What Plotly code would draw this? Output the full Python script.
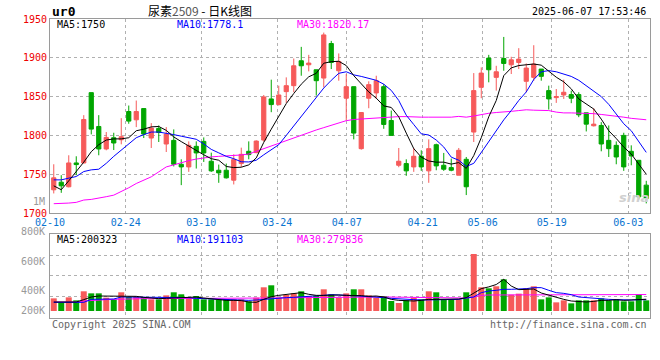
import plotly.graph_objects as go

W, H = 660, 360

# ---------------- data ----------------
open_ = [1729.9, 1739.7, 1733.8, 1764.5, 1764.5, 1855.1, 1811.5, 1782.5, 1797.0, 1794.4,
         1830.8, 1820.1, 1834.6, 1796.6, 1809.0, 1788.9, 1793.6, 1762.8, 1759.4, 1785.9,
         1792.3, 1766.7, 1755.1, 1755.1, 1742.3, 1763.7, 1779.5, 1777.8, 1794.0, 1847.0,
         1839.7, 1856.4, 1864.1, 1896.2, 1891.0, 1884.6, 1873.9, 1918.4, 1883.3, 1847.9,
         1862.8, 1782.9, 1847.9, 1854.7, 1862.8, 1819.2, 1761.5, 1763.7, 1759.4, 1773.1,
         1754.3, 1788.0, 1761.5, 1758.5, 1748.7, 1769.2, 1804.3, 1862.0, 1899.6, 1874.8,
         1899.1, 1891.0, 1894.0, 1869.7, 1874.8, 1885.5, 1857.7, 1848.7, 1852.1, 1852.6,
         1852.6, 1829.1, 1812.4, 1812.8, 1793.6, 1787.2, 1800.0, 1779.5, 1767.9, 1735.9]
high = [1762.8, 1748.7, 1774.4, 1773.1, 1826.1, 1855.1, 1826.1, 1804.3, 1803.4, 1822.2,
        1838.5, 1844.9, 1834.6, 1815.8, 1812.8, 1810.7, 1807.7, 1769.2, 1792.3, 1792.3,
        1797.4, 1777.8, 1762.4, 1763.7, 1775.6, 1784.2, 1792.3, 1793.6, 1852.1, 1871.8,
        1864.1, 1874.8, 1899.1, 1914.1, 1903.8, 1884.6, 1932.5, 1921.8, 1905.6, 1879.0,
        1862.8, 1829.5, 1869.7, 1876.9, 1866.2, 1832.0, 1783.8, 1769.2, 1783.8, 1780.8,
        1794.9, 1789.3, 1777.4, 1770.1, 1783.8, 1772.2, 1880.3, 1887.6, 1903.8, 1889.7,
        1926.9, 1901.3, 1912.4, 1892.7, 1916.2, 1885.5, 1864.1, 1859.8, 1871.8, 1857.7,
        1855.6, 1829.1, 1835.0, 1817.1, 1812.8, 1792.3, 1803.4, 1787.2, 1767.9, 1741.5]
low = [1725.2, 1726.0, 1733.0, 1748.7, 1764.0, 1801.3, 1774.4, 1780.8, 1781.2, 1788.5,
       1815.0, 1810.7, 1796.6, 1783.8, 1791.5, 1778.6, 1760.0, 1735.9, 1753.0, 1757.3,
       1765.8, 1753.0, 1738.9, 1744.4, 1736.8, 1759.4, 1769.2, 1777.0, 1792.0, 1829.9,
       1838.5, 1841.9, 1855.6, 1876.9, 1882.5, 1851.3, 1862.0, 1885.5, 1870.5, 1819.2,
       1794.9, 1781.6, 1835.0, 1847.0, 1808.5, 1800.0, 1759.0, 1747.9, 1753.0, 1754.3,
       1738.9, 1755.1, 1754.3, 1753.8, 1748.7, 1723.1, 1791.5, 1847.9, 1868.4, 1857.7,
       1883.3, 1879.1, 1885.5, 1855.6, 1870.5, 1870.5, 1833.3, 1841.9, 1847.0, 1841.5,
       1823.5, 1805.1, 1811.5, 1779.5, 1772.2, 1762.8, 1754.3, 1761.5, 1717.5, 1712.4]
close = [1745.3, 1735.0, 1764.5, 1762.4, 1820.5, 1808.1, 1782.5, 1797.4, 1790.2, 1798.3,
         1818.4, 1830.8, 1801.7, 1809.4, 1803.8, 1801.7, 1762.8, 1759.4, 1787.2, 1777.4,
         1777.4, 1754.3, 1751.7, 1745.3, 1768.8, 1775.6, 1775.2, 1792.7, 1849.6, 1839.7,
         1852.1, 1864.1, 1889.7, 1889.7, 1893.2, 1870.5, 1929.5, 1894.0, 1895.3, 1862.8,
         1803.0, 1829.5, 1865.4, 1870.5, 1814.1, 1800.0, 1766.7, 1754.3, 1773.1, 1759.4,
         1782.9, 1760.7, 1756.4, 1755.1, 1780.8, 1733.8, 1857.7, 1880.3, 1884.6, 1882.0,
         1892.7, 1897.4, 1898.3, 1886.8, 1891.9, 1876.1, 1847.0, 1850.0, 1855.6, 1847.9,
         1826.5, 1814.5, 1814.5, 1788.9, 1782.9, 1772.2, 1759.4, 1773.5, 1720.9, 1718.8]

ma5 = [1735, 1730, 1741.5, 1753, 1765.5, 1779, 1788, 1794, 1795.5, 1795.5,
       1797, 1806, 1808, 1811, 1811.5, 1806.5, 1798, 1792, 1786, 1781,
       1775, 1770, 1768, 1760, 1758.5, 1759, 1762, 1771, 1791, 1808,
       1824, 1841, 1854, 1866, 1875.5, 1880, 1893, 1895, 1895.5, 1890,
       1877, 1867, 1856, 1848, 1838, 1836, 1824, 1803, 1783, 1772,
       1767, 1765.5, 1765.5, 1763, 1765, 1757.5, 1774, 1797, 1824, 1845,
       1877, 1887, 1890, 1891, 1892, 1890.5, 1883, 1875, 1869, 1860,
       1847, 1841, 1834, 1821, 1806, 1796, 1785, 1776, 1763, 1750]
ma10 = [1742.7, 1742.7, 1744.9, 1747, 1753.4, 1755.6, 1756.4, 1764, 1773, 1781,
        1788, 1797, 1801, 1804.3, 1804.3, 1803, 1801, 1799, 1797, 1795,
        1789, 1782, 1777.5, 1773, 1770, 1766, 1765.8, 1768, 1775, 1781,
        1788, 1800, 1812, 1825, 1837, 1848, 1861, 1871, 1880, 1882,
        1878, 1876, 1874, 1871, 1866, 1858, 1845, 1826, 1814, 1802,
        1800.5, 1794, 1785, 1772, 1768, 1760, 1764, 1778, 1792, 1806,
        1820, 1832, 1845, 1856, 1872, 1882, 1883.5, 1882, 1879, 1876,
        1871, 1864, 1857, 1850, 1840, 1827, 1815, 1806, 1792, 1778.1]
ma30 = [1712, 1712, 1712.8, 1713.7, 1716.7, 1717.5, 1719.7, 1721, 1723, 1727.4,
        1732.5, 1738, 1742.3, 1746.6, 1753, 1759.4, 1762, 1765, 1767.5, 1769.5,
        1771, 1772.3, 1773, 1773.5, 1774, 1774.8, 1776, 1779.5, 1783, 1786.5,
        1790, 1794, 1797.5, 1801, 1804, 1807, 1810, 1813, 1816, 1819,
        1820.5, 1821.2, 1822, 1822.8, 1823.5, 1824, 1824.2, 1824.2, 1823.5, 1823.5,
        1823.5, 1823.5, 1823.5, 1823.5, 1824.5, 1823.5, 1825, 1827, 1828.5, 1829.5,
        1830, 1831, 1832, 1833, 1832.5, 1832.5, 1832, 1830, 1829, 1829,
        1828.8, 1828.5, 1828, 1827, 1826, 1825, 1823.5, 1822, 1821, 1820.17]

volume = [215, 142, 232, 181, 335, 300, 300, 227, 198, 318,
          238, 238, 238, 198, 198, 266, 318, 284, 227, 255,
          198, 198, 198, 198, 198, 198, 164, 227, 403, 437,
          227, 272, 300, 335, 255, 261, 369, 284, 227, 300,
          369, 369, 266, 221, 255, 170, 136, 181, 227, 198,
          335, 318, 198, 198, 198, 318, 970, 403, 386, 420,
          539, 278, 295, 386, 420, 198, 232, 147, 181, 130,
          181, 181, 181, 215, 181, 198, 164, 164, 284, 181]  # thousands
vol_ma5 = [153, 153, 153, 153, 193, 238, 255, 255, 244, 255,
           249, 249, 232, 221, 210, 215, 221, 227, 232, 238,
           221, 204, 193, 181, 181, 176, 153, 147, 198, 244,
           266, 278, 295, 312, 284, 266, 266, 272, 272, 266,
           266, 261, 249, 255, 238, 198, 181, 170, 170, 181,
           198, 198, 204, 204, 204, 227, 310, 380, 410, 450,
           539, 425, 363, 363, 374, 306, 266, 227, 198, 170,
           164, 153, 164, 181, 181, 193, 181, 187, 190, 200.3]
vol_ma10 = [147, 147, 147, 147, 147, 198, 198, 204, 204, 238,
            238, 238, 238, 238, 227, 227, 227, 227, 227, 215,
            210, 204, 193, 193, 187, 181, 181, 187, 198, 215,
            221, 227, 232, 238, 249, 255, 266, 278, 266, 266,
            261, 255, 249, 238, 227, 215, 204, 198, 193, 187,
            187, 193, 193, 198, 198, 221, 238, 312, 340, 352,
            369, 369, 369, 380, 397, 397, 352, 312, 300, 278,
            238, 227, 215, 198, 198, 193, 187, 187, 193, 191.1]
vol_ma30 = [153, 153, 153, 153, 170, 181, 187, 193, 198, 204,
            210, 210, 210, 210, 210, 210, 210, 210, 210, 210,
            210, 210, 210, 210, 210, 210, 212, 214, 218, 221,
            224, 226, 228, 230, 232, 234, 236, 238, 238, 238,
            238, 238, 238, 238, 238, 236, 232, 228, 224, 221,
            221, 221, 221, 221, 221, 221, 238, 266, 272, 272,
            272, 272, 272, 272, 272, 272, 270, 268, 268, 268,
            268, 268, 268, 268, 270, 272, 274, 276, 278, 279.8]

date_labels = ["02-10", "02-24", "03-10", "03-24", "04-07", "04-21", "05-06", "05-19", "06-03"]
date_tick_pos = [-0.5, 9.59, 19.67, 29.81, 39.06, 49.19, 57.19, 66.39, 76.61]
price_ticks = [1700, 1750, 1800, 1850, 1900, 1950]

# ---------------- styling ----------------
RED = "#f65a5a"
GREEN = "#00a600"
GRID = "#b0b0b0"
FRAME = "#9a9a9a"
MONO = "DejaVu Sans Mono"
CJK = "Noto Sans CJK SC"


def px(x):
    return x / W


def py(y):
    return 1 - y / H


idx = list(range(len(close)))
vol_abs = [v * 1000 for v in volume]

fig = go.Figure()
fig.add_trace(go.Candlestick(
    x=idx, open=open_, high=high, low=low, close=close,
    xaxis="x", yaxis="y", whiskerwidth=0, hoverinfo="skip",
    increasing=dict(line=dict(color=RED, width=1), fillcolor=RED),
    decreasing=dict(line=dict(color=GREEN, width=1), fillcolor=GREEN),
))
for vals, col in [(ma30, "#ff00ff"), (ma10, "#0000ff"), (ma5, "#000000")]:
    fig.add_trace(go.Scatter(x=idx, y=vals, mode="lines", xaxis="x", yaxis="y",
                             line=dict(color=col, width=1), hoverinfo="skip"))

vol_colors = [RED if c >= o else GREEN for o, c in zip(open_, close)]
fig.add_trace(go.Bar(x=idx, y=vol_abs, width=0.8, xaxis="x2", yaxis="y2",
                     marker=dict(color=vol_colors, line=dict(width=0)), hoverinfo="skip"))
for vals, col in [(vol_ma30, "#ff00ff"), (vol_ma10, "#0000ff"), (vol_ma5, "#000000")]:
    fig.add_trace(go.Scatter(x=idx, y=[v * 1000 for v in vals], mode="lines", xaxis="x2", yaxis="y2",
                             line=dict(color=col, width=1), hoverinfo="skip"))

common_x = dict(range=[-0.5, 79.5], tickvals=date_tick_pos, showgrid=True, gridcolor=GRID,
                griddash="dot", gridwidth=1, showline=True, mirror=True, linecolor=FRAME,
                linewidth=1, zeroline=False, ticks="", fixedrange=True, automargin=False)
common_y = dict(showgrid=True, gridcolor=GRID, griddash="dot", showline=True, mirror=True,
                linecolor=FRAME, zeroline=False, ticks="", fixedrange=True, automargin=False)

fig.update_layout(
    width=W, height=H, margin=dict(l=0, r=0, t=0, b=0, autoexpand=False),
    paper_bgcolor="white", plot_bgcolor="white", showlegend=False, boxgap=0.2, bargap=0.2,
    xaxis=dict(domain=[px(50), px(650)], anchor="y", ticktext=date_labels,
               tickfont=dict(family=MONO, size=10, color="#0a74d0"),
               rangeslider=dict(visible=False), **common_x),
    yaxis=dict(domain=[py(213), py(19)], range=[1700, 1950], tickvals=price_ticks,
               tickfont=dict(family=MONO, size=10, color="#ee0000"), **common_y),
    xaxis2=dict(domain=[px(50), px(650)], anchor="y2", showticklabels=False, **common_x),
    yaxis2=dict(domain=[py(318), py(234.3)], range=[-119000, 1304000],
                tickvals=[243000, 600000, 947000], showticklabels=False, **common_y),
)

ann = []


def text(x, y, s, color="#000000", size=10, family=MONO, anchor="left"):
    ann.append(dict(x=px(x), y=py(y), xref="paper", yref="paper", text=s, showarrow=False,
                    xanchor=anchor, yanchor="middle", font=dict(family=family, size=size, color=color)))


text(50, 11, "<b>ur0</b>", size=13)
text(200, 10, "尿素<span style='color:#555555'>2509</span> - 日K线图", size=12, family=CJK, anchor="center")
text(648, 12, "2025-06-07 17:53:46", size=10, anchor="right")
text(55, 24.5, "MA5:1750")
text(175, 24.5, "MA10:1778.1", color="#0000ff")
text(295, 24.5, "MA30:1820.17", color="#ff00ff")
text(55, 239, "MA5:200323")
text(175, 239, "MA10:191103", color="#0000ff")
text(295, 239, "MA30:279836", color="#ff00ff")
for lab, yy in [("800K", 231), ("600K", 261), ("400K", 290), ("200K", 310)]:
    text(47, yy, lab, color="#999999", anchor="right")
text(47, 201, "1M", color="#999999", anchor="right")
text(50, 324, "Copyright 2025 SINA.COM", color="#666666")
text(649, 324, "http://finance.sina.com.cn", color="#666666", anchor="right")
text(634, 197, "<b><i>sina</i></b>", color="#d0d0d0", size=13, family="DejaVu Sans", anchor="center")

fig.update_layout(annotations=ann)
fig.write_html("out.html")
